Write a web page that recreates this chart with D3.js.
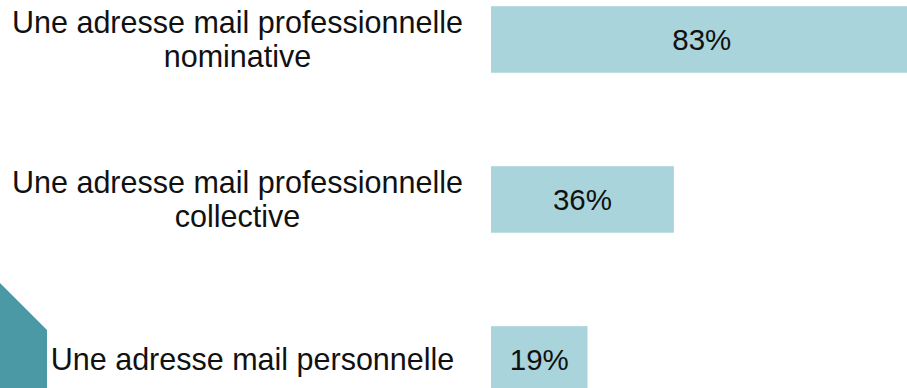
<!DOCTYPE html>
<html>
<head>
<meta charset="utf-8">
<script src="https://cdn.jsdelivr.net/npm/d3@7"></script>
<style>
  html, body { margin: 0; padding: 0; background: #fff; overflow: hidden; }
  svg { display: block; }
</style>
</head>
<body>
<svg id="chart" width="907" height="388"></svg>
<script>
// Type d'adresse mail utilisée
const categories = [
  ["Une adresse mail professionnelle", "nominative"],
  ["Une adresse mail professionnelle", "collective"],
  ["Une adresse mail personnelle"]
];
const values = [83, 36, 19];
const valueLabels = ["83%", "36%", "19%"];

const W = 907, H = 388;
const svg = d3.select("#chart");
const font = "'Liberation Sans', Arial, sans-serif";

// Decorative corner shape
svg.append("path")
  .attr("d", "M0,283 L47,330 L47,388 L0,388 Z")
  .attr("fill", "#4a99a4");

const x = d3.scaleLinear().domain([0, 100]).range([491, 999]);
const y = d3.scaleBand()
  .domain(d3.range(categories.length))
  .range([6.2, 392.7])
  .paddingInner(0.584)
  .paddingOuter(0);

const rows = svg.selectAll("g.row")
  .data(values)
  .join("g")
  .attr("class", "row");

rows.append("rect")
  .attr("x", x(0))
  .attr("y", (d, i) => y(i))
  .attr("width", d => x(d) - x(0))
  .attr("height", y.bandwidth())
  .attr("fill", "#a9d4db");

rows.append("text")
  .attr("x", d => (x(0) + x(d)) / 2)
  .attr("y", (d, i) => y(i) + y.bandwidth() / 2)
  .attr("dy", "0.36em")
  .attr("text-anchor", "middle")
  .attr("font-family", font)
  .attr("font-size", 29.5)
  .attr("fill", "#111")
  .text((d, i) => valueLabels[i]);

// Category labels, centred on their own column
const lineH = 34;
categories.forEach((lines, i) => {
  const cy = y(i) + y.bandwidth() / 2;
  const t = svg.append("text")
    .attr("font-family", font)
    .attr("font-size", 30.5)
    .attr("fill", "#111")
    .attr("text-anchor", "middle");
  const cx = lines.length > 1 ? 237.5 : 252.5;
  lines.forEach((s, j) => {
    t.append("tspan")
      .attr("x", cx)
      .attr("y", cy + (j - (lines.length - 1) / 2) * lineH)
      .attr("dy", "0.36em")
      .text(s);
  });
});
</script>
</body>
</html>
